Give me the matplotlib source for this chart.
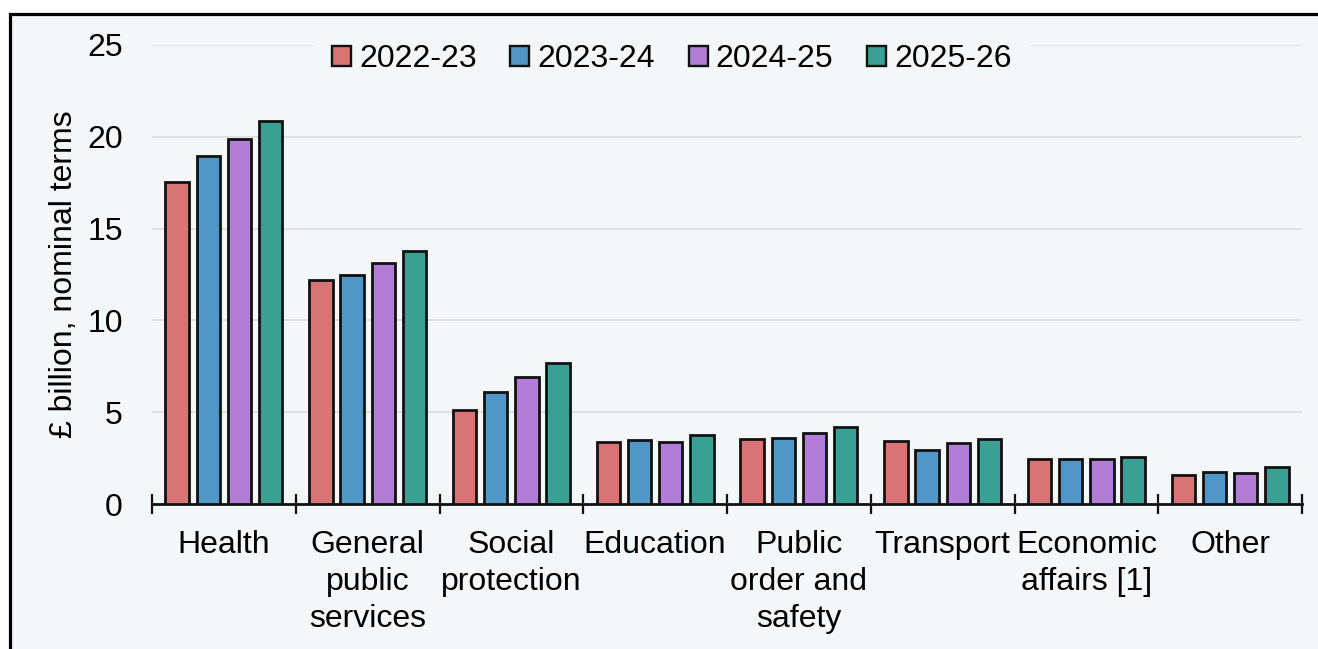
import numpy as np
import matplotlib.pyplot as plt
from matplotlib.patches import Patch, Rectangle
from matplotlib.lines import Line2D

# Data
categories = ["Health", "General\npublic\nservices", "Social\nprotection", "Education",
              "Public\norder and\nsafety", "Transport", "Economic\naffairs [1]", "Other"]
years = ["2022-23", "2023-24", "2024-25", "2025-26"]
v_2022_23 = [17.55, 12.2, 5.12, 3.38, 3.56, 3.45, 2.43, 1.58]
v_2023_24 = [18.97, 12.49, 6.1, 3.49, 3.61, 2.94, 2.43, 1.73]
v_2024_25 = [19.86, 13.14, 6.93, 3.39, 3.88, 3.32, 2.43, 1.67]
v_2025_26 = [20.88, 13.8, 7.66, 3.76, 4.21, 3.52, 2.54, 2.03]
series = [v_2022_23, v_2023_24, v_2024_25, v_2025_26]
colors = ["#D97474", "#5097C7", "#B37CD6", "#3AA094"]

bg = "#F4F7F7"
plt.rcParams['font.family'] = ['Liberation Sans', 'DejaVu Sans']
fs = 23

fig = plt.figure(figsize=(13.18, 6.49), dpi=100, facecolor="white")
# outer frame: only left and top edges are visible in the cropped picture
fl, ft = 10 / 1318, 1 - 14 / 649
fig.patches.append(Rectangle((fl, 0), 1 - fl, ft, transform=fig.transFigure,
                             facecolor=bg, edgecolor="none", zorder=-10))
fig.lines.append(Line2D([fl, fl, 1], [0, ft, ft], transform=fig.transFigure,
                        color="black", linewidth=2.3, solid_joinstyle="miter", zorder=-9))

ax = fig.add_axes([152 / 1318, 1 - 504 / 649, 1150 / 1318, 459 / 649], zorder=1)
ax.set_facecolor(bg)

x = np.arange(len(categories))
pitch = 0.217
width = 0.163
for i, (vals, col) in enumerate(zip(series, colors)):
    ax.bar(x + (i - 1.5) * pitch, vals, width, color=col, edgecolor="#111111",
           linewidth=2.0, zorder=3, label=years[i])

ax.set_xlim(-0.5, len(categories) - 0.5)
ax.set_ylim(0, 25)
ax.set_yticks([0, 5, 10, 15, 20, 25])
ax.yaxis.grid(True, color="#E0E0E0", linewidth=1.5, zorder=0)
ax.set_axisbelow(True)

for s in ["left", "right", "top"]:
    ax.spines[s].set_visible(False)
ax.spines["bottom"].set_linewidth(2.0)
ax.spines["bottom"].set_color("#111111")

ax.set_xticks(x)
ax.set_xticklabels(categories, fontsize=fs, linespacing=1.3)
ax.set_xticks(np.arange(-0.5, len(categories)), minor=True)
ax.tick_params(axis="x", which="major", length=0, pad=19)
ax.tick_params(axis="x", which="minor", direction="inout", length=15, width=1.6, color="#111111")
ax.tick_params(axis="y", length=0, pad=21, labelsize=fs)

ax.set_ylabel("£ billion, nominal terms", fontsize=fs, labelpad=6)

handles = [Patch(facecolor=c, edgecolor="#111111", linewidth=1.7) for c in colors]
leg = ax.legend(handles, years, loc="center", bbox_to_anchor=(0.452, 0.969), ncol=4,
                fontsize=fs, frameon=True, facecolor=bg, edgecolor=bg, framealpha=1,
                handlelength=0.6, handleheight=0.6, handletextpad=0.25,
                columnspacing=1.05, borderpad=0.6)
leg.get_frame().set_linewidth(0)

fig.savefig("out.png", dpi=100, facecolor=fig.get_facecolor())
